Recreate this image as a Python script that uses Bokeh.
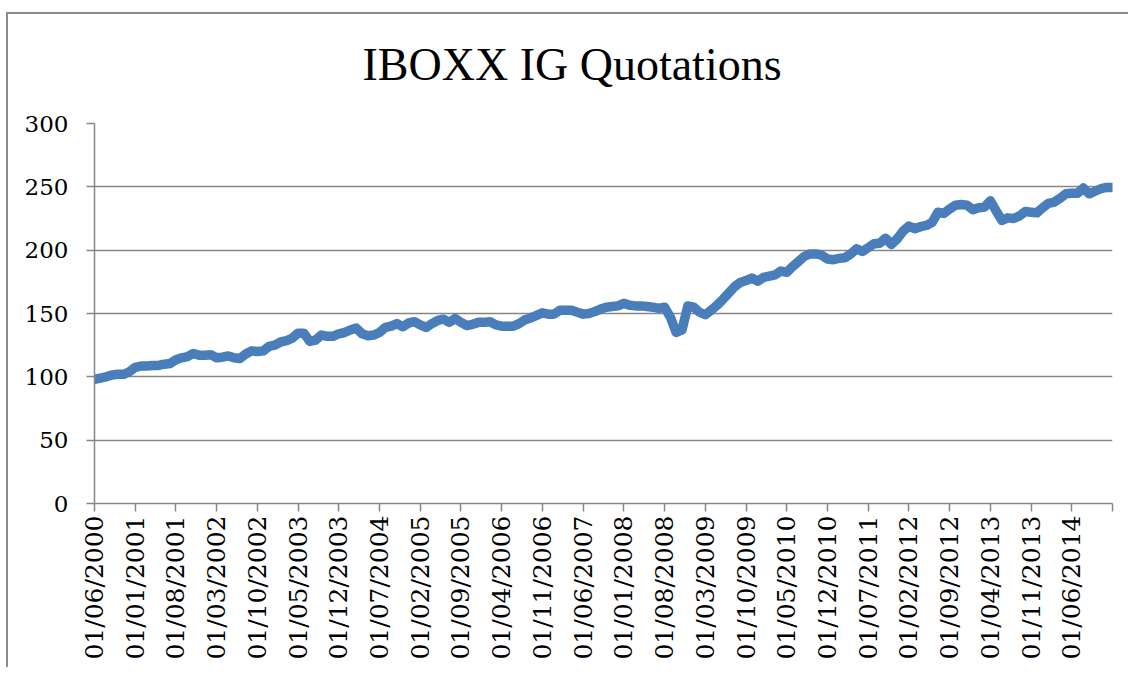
import math
from bokeh.plotting import figure
from bokeh.models import Range1d, FixedTicker, ColumnDataSource, Label
from bokeh.embed import file_html
from bokeh.resources import INLINE

title_text = "IBOXX IG Quotations"

# monthly quotations, first value = 01/06/2000
quotes = [
    98, 99, 100, 101.5, 102, 102, 104, 107.5, 108.5, 108.5,
    109, 109, 110, 110.5, 113.5, 115, 116, 118.5, 117, 117,
    117.5, 115, 115.5, 116.5, 115, 114.5, 118, 120.5, 120, 120.5,
    124, 125, 127.5, 128.5, 130.5, 134.5, 134.5, 128, 129, 133,
    132, 132, 134, 135, 137, 138.5, 134, 132.5, 133, 135,
    139, 140, 142, 139.5, 142.5, 143.5, 141, 139, 142, 144.5,
    145.5, 143, 146, 143, 140.5, 141.5, 143, 143, 143.5, 141,
    140, 140, 140, 142, 145, 146.5, 148.5, 150.5, 149.5, 149.5,
    152.5, 152.5, 152.5, 151, 149.5, 150, 151.5, 153.5, 155, 155.5,
    156, 158, 156.5, 156, 156, 155.5, 155, 154, 155, 147,
    135, 137, 156, 155, 151, 149, 152.5, 156.5, 161, 166,
    171, 174.5, 176, 178, 175.5, 178.5, 179.5, 180.5, 183.5, 182.5,
    187, 191, 195, 197, 197, 196, 193, 192.5, 193.5, 194,
    197, 201, 199, 202, 205, 205.5, 209.5, 204.5, 209, 215,
    219, 217, 218.5, 219.5, 222, 230, 229, 232.5, 235.5, 236,
    235.5, 232, 233.5, 234, 239, 231, 223.5, 225.5, 225, 227,
    230.5, 230, 229.5, 233.5, 237, 238, 241, 244.5, 245, 245,
    249, 244.5, 246.5, 248.5, 249.5, 249.5,
]

tick_labels = [
    "01/06/2000", "01/01/2001", "01/08/2001", "01/03/2002", "01/10/2002",
    "01/05/2003", "01/12/2003", "01/07/2004", "01/02/2005", "01/09/2005",
    "01/04/2006", "01/11/2006", "01/06/2007", "01/01/2008", "01/08/2008",
    "01/03/2009", "01/10/2009", "01/05/2010", "01/12/2010", "01/07/2011",
    "01/02/2012", "01/09/2012", "01/04/2013", "01/11/2013", "01/06/2014",
]
label_step = 7
y_ticks = [0, 50, 100, 150, 200, 250, 300]

month_index = list(range(len(quotes)))
last = len(quotes) - 1
tick_pos = [i * label_step for i in range(len(tick_labels))] + [last]
overrides = {i * label_step: lab for i, lab in enumerate(tick_labels)}
overrides[last] = ""

GRAY = "#868686"

p = figure(
    width=1122, height=655,
    output_backend="svg", toolbar_location=None,
    x_range=Range1d(0, last), y_range=Range1d(0, 300),
    min_border_left=86, min_border_right=18,
    min_border_top=109, min_border_bottom=166,
)
p.styles = {"border-left": "2px solid #8c8c8c", "border-top": "2px solid #8c8c8c",
            "margin-top": "12px", "margin-left": "6px"}

# chart title, placed in screen units inside the top panel
title = Label(x=268, y=59, x_units="screen", y_units="screen",
              text=title_text, text_font="Liberation Serif",
              text_font_size="46px", text_color="black",
              text_align="left", text_baseline="alphabetic")
p.add_layout(title, "above")

p.outline_line_color = None
p.background_fill_color = "white"
p.border_fill_color = "white"

src = ColumnDataSource(dict(x=month_index, y=quotes))
p.line("x", "y", source=src, line_color="#4a7ebb", line_width=9.5,
       line_join="round", line_cap="round")

p.xgrid.visible = False
p.ygrid.ticker = FixedTicker(ticks=y_ticks)
p.ygrid.grid_line_color = GRAY
p.ygrid.grid_line_width = 1.5

for ax in (p.xaxis[0], p.yaxis[0]):
    ax.axis_line_color = GRAY
    ax.axis_line_width = 1.5
    ax.major_tick_line_color = GRAY
    ax.major_tick_line_width = 1.5
    ax.major_tick_in = 0
    ax.major_tick_out = 8
    ax.minor_tick_line_color = None
    ax.major_label_text_font = "DejaVu Serif"
    ax.major_label_text_color = "black"

p.yaxis[0].major_label_text_font_size = "23px"
p.yaxis[0].ticker = FixedTicker(ticks=y_ticks)
p.yaxis[0].major_label_standoff = 18

p.xaxis[0].major_label_text_font_size = "25px"
p.xaxis[0].ticker = FixedTicker(ticks=tick_pos)
p.xaxis[0].major_label_overrides = overrides
p.xaxis[0].major_label_orientation = math.pi / 2
p.xaxis[0].major_label_standoff = 4

open("out.html", "w").write(file_html(p, INLINE))
